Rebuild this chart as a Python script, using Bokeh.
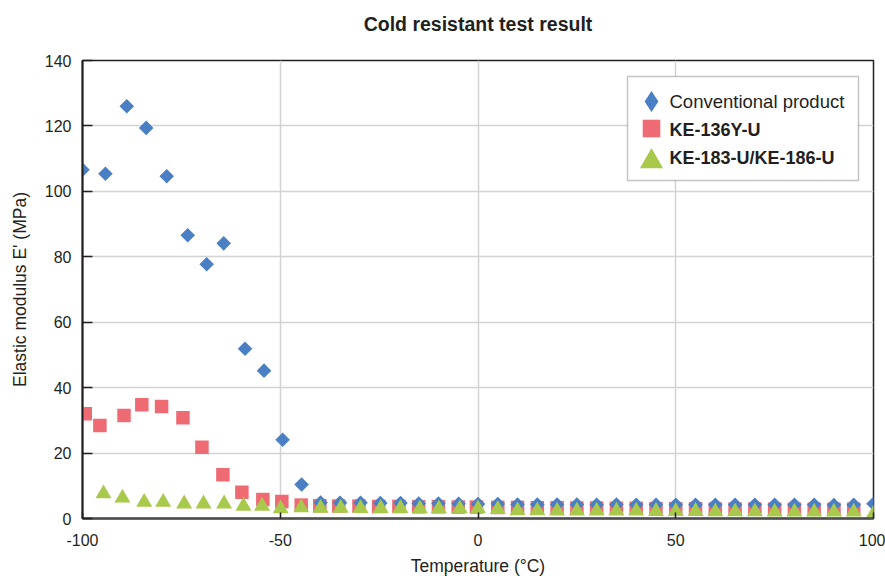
import numpy as np
from bokeh.plotting import figure
from bokeh.models import (Range1d, FixedTicker, Legend, LegendItem, BoxAnnotation,
                          ColumnDataSource, Label)
from bokeh.embed import file_html
from bokeh.resources import INLINE

# ---------------- data ----------------
title_text = "Cold resistant test result"
x_label = "Temperature (°C)"
y_label = "Elastic modulus E' (MPa)"

x_ticks = [-100, -50, 0, 50, 100]
x_tick_labels = ["-100", "-50", "0", "50", "100"]
y_ticks = [0, 20, 40, 60, 80, 100, 120, 140]
y_tick_labels = ["0", "20", "40", "60", "80", "100", "120", "140"]

series_names = ["Conventional product", "KE-136Y-U", "KE-183-U/KE-186-U"]

conv_x = [-100, -94.2, -88.8, -83.9, -78.7, -73.4, -68.6, -64.3, -58.9, -54.1, -49.4, -44.6,
          -39.8, -34.9, -29.7, -24.7, -19.6, -15.0, -10.0, -4.9,
          0, 5, 10, 15, 20, 25, 30, 35, 40, 45, 50, 55, 60, 65, 70, 75, 80, 85, 90, 95, 100]
conv_y = [106.6, 105.4, 126.0, 119.4, 104.6, 86.6, 77.7, 84.1, 51.9, 45.2, 24.1, 10.4,
          4.9, 4.8, 4.8, 4.7, 4.7, 4.6, 4.6, 4.5,
          4.4, 4.4, 4.3, 4.3, 4.3, 4.3, 4.2, 4.3, 4.2, 4.2, 4.2, 4.2, 4.2, 4.2, 4.2, 4.2, 4.2, 4.2, 4.1, 4.2, 4.5]

ke136_x = [-99.3, -95.6, -89.5, -85.0, -80.0, -74.6, -69.8, -64.5, -59.7, -54.4, -49.6, -44.7,
           -40.0, -35.2, -30.1, -25.1, -20.0, -15.0, -10.0, -5.0,
           -0.4, 5, 10, 15, 20, 25, 30, 35, 40, 45, 50, 55, 60, 65, 70, 75, 80, 85, 90, 95]
ke136_y = [32.0, 28.4, 31.5, 34.8, 34.2, 30.8, 21.8, 13.4, 8.0, 5.8, 5.2, 4.1,
           3.9, 3.8, 3.8, 3.7, 3.7, 3.6, 3.6, 3.5,
           3.5, 3.4, 3.4, 3.3, 3.3, 3.2, 3.2, 3.1, 3.1, 3.0, 3.0, 3.0, 2.9, 2.9, 2.9, 2.8, 2.8, 2.8, 2.8, 2.8]

ke183_x = [-94.7, -89.9, -84.4, -79.6, -74.3, -69.4, -64.2, -59.3, -54.6, -49.9, -44.7,
           -39.8, -34.7, -29.7, -24.6, -19.6, -14.7, -9.9, -4.6,
           0, 5, 10, 15, 20, 25, 30, 35, 40, 45, 50, 55, 60, 65, 70, 75, 80, 85, 90, 95, 100]
ke183_y = [7.6, 6.3, 5.0, 5.0, 4.5, 4.5, 4.5, 3.8, 3.8, 3.0, 3.3,
           3.2, 3.2, 3.1, 3.1, 3.1, 3.0, 3.0, 3.0,
           3.0, 2.8, 2.4, 2.4, 2.3, 2.3, 2.3, 2.3, 2.3, 2.2, 2.2, 2.2, 2.1, 2.1, 2.1, 2.0, 2.0, 2.0, 2.0, 2.0, 1.4, 1.4]

# ---------------- styling ----------------
FONT = "Liberation Sans"
TXT = "#231f20"
BLUE = "#4a7fc3"
PINK = "#ef6b74"
GREEN = "#a8c94b"

p = figure(width=885, height=578, output_backend="svg", toolbar_location=None,
           x_range=Range1d(-100, 100), y_range=Range1d(0, 140),
           min_border_left=82, min_border_right=12, min_border_top=60, min_border_bottom=60,
           title=title_text + "\n")
p.background_fill_color = "white"
p.border_fill_color = "white"
p.outline_line_color = TXT
p.outline_line_width = 1.5

p.title.align = "center"
p.title.vertical_align = "bottom"
p.title.text_font = FONT
p.title.text_font_size = "19.5px"
p.title.text_font_style = "bold"
p.title.text_color = TXT
p.title.standoff = 8

p.xaxis.ticker = FixedTicker(ticks=x_ticks)
p.xaxis.major_label_overrides = dict(zip(x_ticks, x_tick_labels))
p.yaxis.ticker = FixedTicker(ticks=y_ticks)
p.yaxis.major_label_overrides = dict(zip(y_ticks, y_tick_labels))
p.xaxis.axis_label = x_label
p.yaxis.axis_label = y_label

for ax in (p.xaxis, p.yaxis):
    ax.major_label_text_font = FONT
    ax.major_label_text_font_size = "16px"
    ax.major_label_text_color = TXT
    ax.axis_label_text_font = FONT
    ax.axis_label_text_font_size = "17.5px"
    ax.axis_label_text_font_style = "normal"
    ax.axis_label_text_color = TXT
    ax.minor_tick_line_color = None
    ax.major_tick_out = 0
    ax.major_tick_line_color = TXT
    ax.major_tick_line_width = 1.5

p.yaxis.major_tick_in = 10
p.xaxis.major_tick_in = 6
p.yaxis.axis_line_color = TXT
p.yaxis.axis_line_width = 2
p.xaxis.axis_line_color = "#4d4d4d"
p.xaxis.axis_line_width = 2.5
p.yaxis.major_label_standoff = 11
p.yaxis.axis_label_standoff = 12
p.xaxis.major_label_standoff = 15
p.xaxis.axis_label_standoff = 7

p.grid.grid_line_color = "#d3d3d3"
p.grid.grid_line_width = 1.5

# ---------------- data glyphs ----------------
r_sq = p.scatter(ke136_x, ke136_y, marker="square", size=13.5, fill_color=PINK, line_color=None)
r_conv = p.scatter(conv_x, conv_y, marker="square", angle=np.pi / 4, size=10.3,
                   fill_color=BLUE, line_color=None)
r_tri = p.scatter(ke183_x, ke183_y, marker="triangle", size=16, fill_color=GREEN, line_color=None)

# legend proxy for the diamond symbol (legend glyphs are drawn unrotated)
proxy_src = ColumnDataSource(data=dict(x=np.array([np.nan]), y=np.array([np.nan])))
r_conv_leg = p.scatter("x", "y", source=proxy_src, marker="diamond", fill_color=BLUE, line_color=None)

# ---------------- legend ----------------
box = BoxAnnotation(left=545, right=776, bottom=338, top=442,
                    left_units="screen", right_units="screen", bottom_units="screen", top_units="screen",
                    fill_color="white", fill_alpha=1.0, line_color="#3a3a3a", line_width=1.5)
p.add_layout(box)


def glyph_legend(rend, loc, dim):
    leg = Legend(items=[LegendItem(label="", renderers=[rend])], location=loc,
                 glyph_width=dim, glyph_height=dim, label_height=dim, label_standoff=0,
                 padding=0, margin=0, spacing=0, border_line_color=None, background_fill_alpha=0,
                 label_text_font_size="1px")
    p.add_layout(leg)


glyph_legend(r_conv_leg, (543, 391), 52)
glyph_legend(r_sq, (547, 368), 44)
glyph_legend(r_tri, (540, 328), 58)

for name, ty, style, fs in [(series_names[0], 417, "normal", "18.5px"),
                            (series_names[1], 389, "bold", "18px"),
                            (series_names[2], 361, "bold", "18px")]:
    p.add_layout(Label(x=587, y=ty, x_units="screen", y_units="screen", text=name,
                       text_baseline="middle", text_align="left", text_font=FONT,
                       text_font_size=fs, text_font_style=style, text_color=TXT))

open("out.html", "w").write(file_html(p, INLINE))
